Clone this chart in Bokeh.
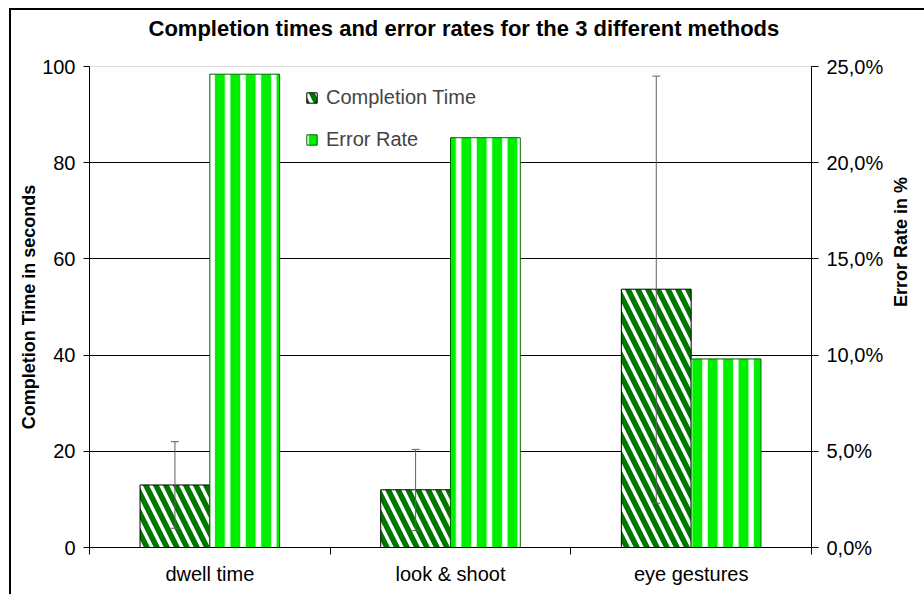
import math
from bokeh.plotting import figure
from bokeh.layouts import column
from bokeh.models import (Range1d, LinearAxis, FixedTicker, CustomJSTickFormatter, Whisker,
                          TeeHead, ColumnDataSource, Legend, LegendItem, Grid)
from bokeh.embed import file_html
from bokeh.resources import INLINE

# ---- data ----
categories = ["dwell time", "look & shoot", "eye gestures"]
completion_time = [13.0, 12.0, 53.7]
ct_lower = [4.0, 3.5, 9.2]
ct_upper = [22.0, 20.4, 98.0]
error_rate = [24.6, 21.3, 9.8]          # percent
left_ticks = [0, 20, 40, 60, 80, 100]
right_ticks = [0, 5, 10, 15, 20, 25]
title_text = "Completion times and error rates for the 3 different methods"
left_title = "Completion Time in seconds"
right_title = "Error Rate in %"

FONT = "Liberation Sans"
BAR_W = 0.29

idx = list(range(len(categories)))
src = ColumnDataSource(dict(
    x_ct=[i + 0.5 - BAR_W / 2 for i in idx],
    x_er=[i + 0.5 + BAR_W / 2 for i in idx],
    ct=completion_time, lo=ct_lower, hi=ct_upper, er=error_rate,
))

p = figure(width=913, height=607, output_backend="svg", toolbar_location=None,
           x_range=Range1d(0, len(categories)), y_range=Range1d(0, 100),
           x_axis_location=None, y_axis_location=None,
           min_border_left=78, min_border_right=111, min_border_top=79, min_border_bottom=47)
p.center = [r for r in p.center if not isinstance(r, Grid)]
p.extra_y_ranges = {"err": Range1d(0, 25)}
p.outline_line_color = "#dddddd"
p.background_fill_color = "white"
p.border_fill_color = "white"
p.styles = {"margin-top": "-23px", "flex": "0 0 auto"}

# title
p.title.text = title_text
p.title.text_font = FONT
p.title.text_font_size = "22px"
p.title.text_font_style = "bold"
p.title.text_color = "black"
p.title.align = "left"
p.title.offset = 59
p.title.standoff = 52

# grid
p.add_layout(Grid(dimension=1, ticker=FixedTicker(ticks=[20, 40, 60, 80]),
                  grid_line_color="black", grid_line_width=1))

# bars
r_ct = p.vbar(x="x_ct", top="ct", width=BAR_W, source=src,
              fill_color="white", line_color="black", line_width=1,
              hatch_pattern="left_diagonal_line", hatch_color="#007800",
              hatch_scale=20, hatch_weight=5.5)
r_er = p.vbar(x="x_er", top="er", width=BAR_W, source=src, y_range_name="err",
              fill_color="white", line_color="#006400", line_width=1,
              hatch_pattern="vertical_line", hatch_color="#00ee00",
              hatch_scale=15.4, hatch_weight=10)

wh = Whisker(source=src, base="x_ct", lower="lo", upper="hi", dimension="height",
             line_color="#606060", line_width=1, level="annotation",
             upper_head=TeeHead(size=8, line_color="#606060", line_width=1),
             lower_head=TeeHead(size=8, line_color="#606060", line_width=1))
p.add_layout(wh)

# axes
la = LinearAxis(ticker=FixedTicker(ticks=left_ticks), axis_label=left_title)
la.major_tick_out = 6
la.major_tick_in = 0
la.major_label_standoff = 8
la.axis_label_standoff = 0
p.add_layout(la, "left")

ra = LinearAxis(y_range_name="err", ticker=FixedTicker(ticks=right_ticks),
                formatter=CustomJSTickFormatter(code="return tick.toFixed(1).replace('.', ',') + '%';"),
                axis_label=right_title)
ra.major_tick_out = 7
ra.major_tick_in = 0
ra.major_label_standoff = 8
ra.axis_label_standoff = 15
ra.axis_label_orientation = math.pi / 2
p.add_layout(ra, "right")

# category axis: labels at group centres, tick marks at group boundaries
ca = LinearAxis(ticker=FixedTicker(ticks=[i + 0.5 for i in idx],
                                   minor_ticks=list(range(len(categories) + 1))),
                major_label_overrides={i + 0.5: c for i, c in zip(idx, categories)})
ca.major_tick_line_color = None
ca.major_tick_out = 7
ca.major_tick_in = 0
ca.minor_tick_line_color = "black"
ca.minor_tick_out = 7
ca.minor_tick_in = 0
ca.major_label_standoff = 8
p.add_layout(ca, "below")

for ax in (la, ra):
    ax.minor_tick_line_color = None
for ax in (la, ra, ca):
    ax.axis_line_color = "black"
    ax.major_label_text_font = FONT
    ax.major_label_text_font_size = "20px"
    ax.major_label_text_color = "black"
    ax.axis_label_text_font = FONT
    ax.axis_label_text_font_size = "18px"
    ax.axis_label_text_font_style = "bold"
    ax.axis_label_text_color = "black"

legend = Legend(items=[LegendItem(label="Completion Time", renderers=[r_ct]),
                       LegendItem(label="Error Rate", renderers=[r_er])],
                location=(216, 396), padding=0, margin=0, spacing=19,
                glyph_width=13, glyph_height=13, label_standoff=8,
                border_line_color=None, background_fill_alpha=0,
                label_text_font=FONT, label_text_font_size="20px")
p.add_layout(legend)

root = column(p, styles={"margin-left": "9px", "margin-top": "8px", "overflow": "hidden",
                         "border-left": "2px solid black", "border-top": "2px solid black"})

open("out.html", "w").write(file_html(root, INLINE))
